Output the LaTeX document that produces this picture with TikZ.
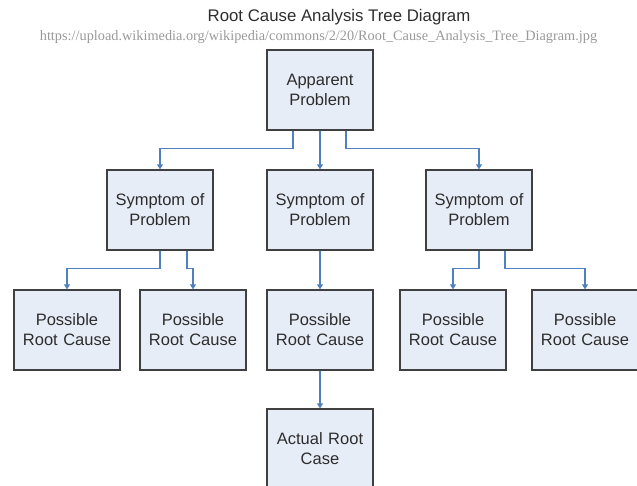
\documentclass[tikz,border=0pt]{standalone}
\usepackage{fontspec}
\setmainfont{Liberation Sans}
\newfontfamily\urlfont{Liberation Serif}
\usetikzlibrary{arrows.meta}
\definecolor{boxfill}{RGB}{231,237,247}
\definecolor{boxline}{RGB}{64,64,64}
\definecolor{arrowblue}{RGB}{79,129,189}
\definecolor{textgray}{RGB}{45,45,45}

\begin{document}
\begin{tikzpicture}[x=1pt, y=-1pt,
  box/.style={rectangle, draw=boxline, fill=boxfill, line width=1.3pt,
    minimum width=106pt, minimum height=80pt, inner sep=0pt, text width=106pt,
    align=center, text=textgray, font=\fontsize{16.5}{20}\selectfont},
  arr/.style={draw=arrowblue, line width=1.1pt, -{Triangle[length=5pt, width=6pt]}}]
\useasboundingbox (0,0) rectangle (637,485);

\node[text=textgray, font=\fontsize{16.8}{20}\selectfont] (t) at (339,17) {Root Cause Analysis Tree Diagram};
\node[text=black!40, font=\urlfont\fontsize{14.3}{16}\selectfont] (u) at (318.5,37) {https://upload.wikimedia.org/wikipedia/commons/2/20/Root\_Cause\_Analysis\_Tree\_Diagram.jpg};

\node[box] (1) at (320,90) {Apparent\\Problem};
\node[box] (2) at (160,210) {Symptom of\\Problem};
\node[box] (3) at (320,210) {Symptom of\\Problem};
\node[box] (4) at (479,210) {Symptom of\\Problem};
\node[box] (5) at (67,330) {Possible\\Root Cause};
\node[box] (6) at (193,330) {Possible\\Root Cause};
\node[box] (7) at (320,330) {Possible\\Root Cause};
\node[box] (8) at (453,330) {Possible\\Root Cause};
\node[box] (9) at (585,330) {Possible\\Root Cause};
\node[box] (10) at (320,449) {Actual Root\\Case};

\draw[arr] ([xshift=-27pt]1.south) -- ++(0,18) -| (2);
\draw[arr] (1) -- (3);
\draw[arr] ([xshift=26pt]1.south) -- ++(0,18) -| (4);
\draw[arr] (2.south) -- ++(0,18) -| (5);
\draw[arr] ([xshift=27pt]2.south) -- ++(0,18) -| (6);
\draw[arr] (3) -- (7);
\draw[arr] (4.south) -- ++(0,18) -| (8);
\draw[arr] ([xshift=26pt]4.south) -- ++(0,18) -| (9);
\draw[arr] (7) -- (10);
\end{tikzpicture}
\end{document}
